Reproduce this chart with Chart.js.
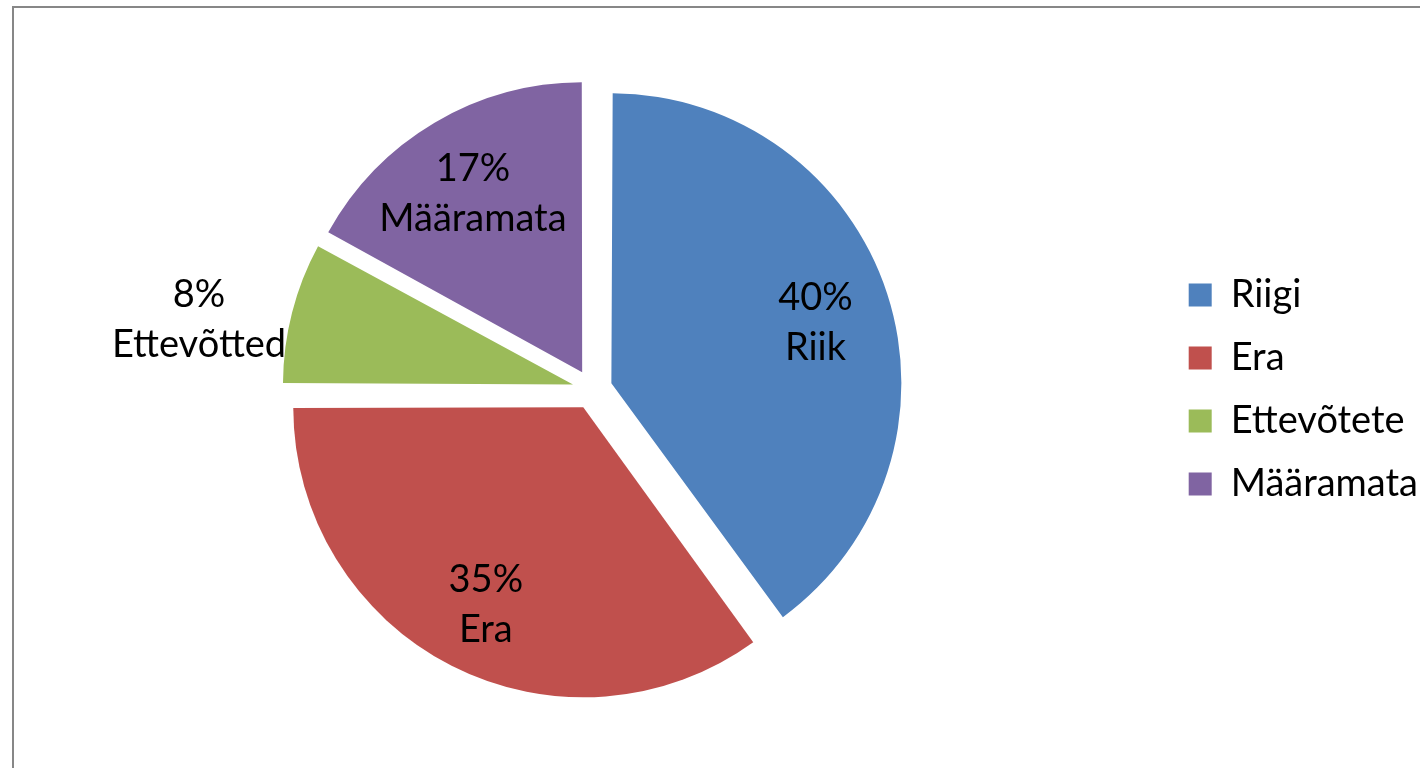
<!DOCTYPE html>
<html>
<head>
<meta charset="utf-8">
<script src="https://cdn.jsdelivr.net/npm/chart.js@4.4.1/dist/chart.umd.min.js"></script>
<style>
  html, body { margin: 0; padding: 0; background: #fff; overflow: hidden; }
  .frame { position: absolute; left: 12px; top: 6px; width: 1460px; height: 820px; border: 2px solid #878787; }
  .chart-box { position: absolute; left: 0; top: 0; width: 1428px; height: 768px; }
</style>
</head>
<body>
<div class="frame"></div>
<div class="chart-box"><canvas id="pieChart"></canvas></div>
<script>
const legendLabels = ['Riigi', 'Era', 'Ettevõtete', 'Määramata'];
const sliceNames = ['Riik', 'Era', 'Ettevõtted', 'Määramata'];
const shares = [40, 35, 8, 17];
const sliceColors = ['#4F81BD', '#C0504D', '#9BBB59', '#8064A2'];

const FONT = 'Lato, "Liberation Sans", sans-serif';
const FONT_SIZE = 38;
const EXPLODE = 80; // chart.js moves a slice by offset/4, so 20px
const RADIUS = 290;

// chart.js grows small exploded slices a bit, undo that so all slices keep one radius
const evenRadius = {
    id: 'evenRadius',
    afterDatasetUpdate(chart, args) {
        args.meta.data.forEach(arc => {
            const circ = arc.endAngle - arc.startAngle;
            const fix = 1 - Math.sin(Math.min(Math.PI, circ));
            arc.outerRadius = RADIUS - EXPLODE / 4 * fix;
        });
    }
};

const sliceLabels = {
    id: 'sliceLabels',
    afterDatasetsDraw(chart) {
        const ctx = chart.ctx;
        const arcs = chart.getDatasetMeta(0).data;
        ctx.save();
        ctx.font = FONT_SIZE + 'px ' + FONT;
        ctx.fillStyle = '#000';
        ctx.textBaseline = 'middle';
        ctx.textAlign = 'center';
        arcs.forEach((arc, i) => {
            const mid = (arc.startAngle + arc.endAngle) / 2;
            const shift = EXPLODE / 4;
            const cx = arc.x + Math.cos(mid) * shift;
            const cy = arc.y + Math.sin(mid) * shift;
            const lines = [shares[i] + '%', sliceNames[i]];
            let x, y;
            if (shares[i] >= 10) {
                x = cx + Math.cos(mid) * RADIUS * 0.74;
                y = cy + Math.sin(mid) * RADIUS * 0.74 + 6;
            } else {
                // too small, put it outside next to the edge
                const w = Math.max(...lines.map(t => ctx.measureText(t).width));
                const ex = cx + Math.cos(mid) * RADIUS;
                y = cy + Math.sin(mid) * RADIUS + 7;
                x = Math.cos(mid) < 0 ? ex - 6 - w / 2 : ex + 6 + w / 2;
            }
            ctx.fillText(lines[0], x, y - 25);
            ctx.fillText(lines[1], x, y + 25);
        });
        ctx.restore();
    }
};

new Chart(document.getElementById('pieChart'), {
    type: 'pie',
    data: {
        labels: legendLabels,
        datasets: [{
            data: shares,
            backgroundColor: sliceColors,
            borderWidth: 0,
            offset: EXPLODE,
            hoverOffset: 0,
            radius: RADIUS,
        }],
    },
    options: {
        responsive: true,
        maintainAspectRatio: false,
        animation: false,
        layout: {
            padding: { left: 21, top: 11, right: 0, bottom: 0 },
        },
        plugins: {
            tooltip: { enabled: false },
            legend: {
                position: 'right',
                labels: {
                    boxWidth: 23,
                    boxHeight: 23,
                    padding: 25,
                    color: '#000',
                    font: { family: FONT, size: FONT_SIZE },
                },
            },
        },
    },
    plugins: [evenRadius, sliceLabels],
});
</script>
</body>
</html>
